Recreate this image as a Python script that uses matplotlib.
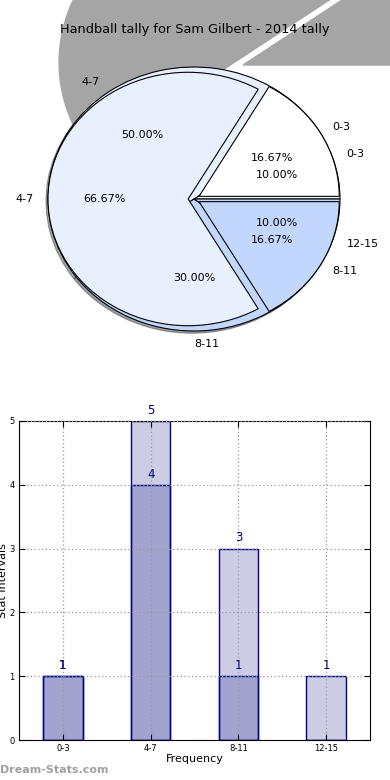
import numpy as np
import matplotlib
matplotlib.use('Agg')
import matplotlib.pyplot as plt
from matplotlib.patches import Wedge

intervals = ['0-3', '4-7', '8-11', '12-15']
tally_a = [1, 4, 1, 0]   # darker bars / exploded pie
tally_b = [1, 5, 3, 1]   # lighter bars / pie with shadow
title = 'Handball tally for Sam Gilbert - 2014 tally'

pie_colors = ['white', '#e9f0fd', '#c3d7fd', '#c3d7fd']
bar_face = (0, 0, 0.5, 0.2)


fig = plt.figure(figsize=(3.9, 7.8), dpi=100)

# ---- pie part ----
ax1 = fig.add_axes([11.5 / 390, 416 / 780, 365 / 390, 330 / 780])

# big grey shadow behind the pies (from the first two slices of tally_b)
angles = np.cumsum([0] + tally_b) / float(sum(tally_b)) * 360
ax1.add_patch(Wedge((0.336, 1.015), 1.3, angles[0], angles[1],
                    color='#a5a5a5', zorder=0.1, clip_on=False))
ax1.add_patch(Wedge((0.276, 1.035), 1.2, angles[1], angles[2],
                    color='#a5a5a5', zorder=0.1, clip_on=False))

ax1.pie(tally_b, labels=intervals, colors=pie_colors, autopct='%1.2f%%',
        shadow={'ox': -0.01, 'oy': -0.012}, startangle=0,
        wedgeprops={'linewidth': 0.8, 'edgecolor': 'black'},
        textprops={'fontsize': 8})

labs_a = [l for l, v in zip(intervals, tally_a) if v > 0]
vals_a = [v for v in tally_a if v > 0]
ax1.pie(vals_a, labels=labs_a, colors=pie_colors[:len(vals_a)],
        autopct='%1.2f%%', explode=[0.04] * len(vals_a), radius=0.96,
        startangle=0,
        wedgeprops={'linewidth': 0.8, 'edgecolor': 'black'},
        textprops={'fontsize': 8})
ax1.set_aspect('auto')
ax1.set_xlim(-1.25, 1.25)
ax1.set_ylim(-1.25, 1.25)

fig.text(0.5, 1 - 30 / 780., title, ha='center', va='center', fontsize=9.3)

# ---- bar part ----
ax2 = fig.add_axes([19 / 390, 40 / 780, 351 / 390, 319 / 780])
x = np.arange(len(intervals))
ax2.bar(x, tally_b, 0.45, color=bar_face, edgecolor='navy', linewidth=1)
ax2.bar(x, tally_a, 0.45, color=bar_face, edgecolor='navy', linewidth=1)
for serie in (tally_b, tally_a):
    for xi, v in zip(x, serie):
        if v > 0:
            ax2.annotate(str(v), (xi, v), xytext=(0, 3), textcoords='offset points',
                         ha='center', va='bottom', color='navy', fontsize=8.5,
                         annotation_clip=False)

ax2.set_xlim(-0.5, 3.5)
ax2.set_ylim(0, 5)
ax2.set_xticks(x)
ax2.set_xticklabels(intervals)
ax2.set_yticks(range(6))
ax2.tick_params(direction='in', top=True, right=True, labelsize=6, length=4, pad=3)
ax2.grid(True, linestyle=(0, (1, 2)), color='#999999', linewidth=0.9)
ax2.set_axisbelow(False)
ax2.set_xlabel('Frequency', fontsize=8)
ax2.set_ylabel('Stat Intervals', fontsize=8)
ax2.yaxis.set_label_coords(-0.03, 0.5)
ax2.xaxis.set_label_coords(0.5, -0.045)

fig.text(0.0, 1 - 770 / 780., 'Dream-Stats.com', ha='left', va='center',
         fontsize=8, fontweight='bold', color='#a0a0a0')

fig.savefig('out.png', dpi=100)
